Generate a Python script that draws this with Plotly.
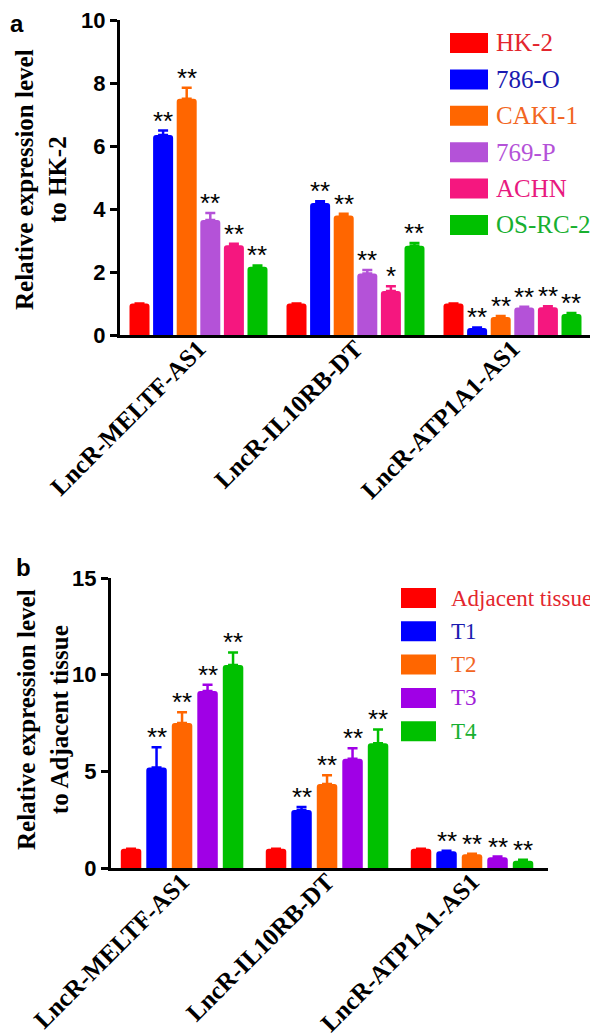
import plotly.graph_objects as go

# ---------------- data ----------------
categories = ["LncR-MELTF-AS1", "LncR-IL10RB-DT", "LncR-ATP1A1-AS1"]

# panel a
series_a = ["HK-2", "786-O", "CAKI-1", "769-P", "ACHN", "OS-RC-2"]
hk2 = [1.0, 1.0, 1.0]
hk2_err = [0.0, 0.0, 0.0]
o786 = [6.35, 4.19, 0.22]
o786_err = [0.14, 0.06, 0.02]
caki1 = [7.5, 3.79, 0.57]
caki1_err = [0.35, 0.06, 0.03]
p769 = [3.65, 1.95, 0.87]
p769_err = [0.22, 0.11, 0.03]
achn = [2.85, 1.4, 0.88]
achn_err = [0.05, 0.15, 0.03]
osrc2 = [2.17, 2.83, 0.67]
osrc2_err = [0.04, 0.09, 0.03]
stars_a = [
    ["", "", ""],
    ["**", "**", "**"],
    ["**", "**", "**"],
    ["**", "**", "**"],
    ["**", "*", "**"],
    ["**", "**", "**"],
]

# panel b
series_b = ["Adjacent tissue", "T1", "T2", "T3", "T4"]
adj = [1.0, 1.0, 1.0]
adj_err = [0.0, 0.0, 0.0]
t1 = [5.2, 3.0, 0.86]
t1_err = [1.05, 0.15, 0.03]
t2 = [7.5, 4.35, 0.71]
t2_err = [0.55, 0.45, 0.03]
t3 = [9.15, 5.65, 0.56]
t3_err = [0.33, 0.55, 0.03]
t4 = [10.5, 6.45, 0.38]
t4_err = [0.65, 0.72, 0.05]
stars_b = [
    ["", "", ""],
    ["**", "**", "**"],
    ["**", "**", "**"],
    ["**", "**", "**"],
    ["**", "**", "**"],
]

# ---------------- styles ----------------
colors_a = ["#FF0000", "#0000FF", "#FF6600", "#B452D8", "#F5177F", "#00C000"]
text_colors_a = ["#E3262E", "#1A1AB0", "#F26522", "#B452D8", "#E8197F", "#18B030"]
colors_b = ["#FF0000", "#0000FF", "#FF6600", "#A000E6", "#00C000"]
text_colors_b = ["#E3262E", "#1A1AB0", "#F26522", "#A020D8", "#18B030"]

W, H = 598, 1036
SERIF = "Liberation Serif"
SANS = "Liberation Sans"


def px(x):
    return x / W


def py(y):
    return 1 - y / H


values_a = [hk2, o786, caki1, p769, achn, osrc2]
errs_a = [hk2_err, o786_err, caki1_err, p769_err, achn_err, osrc2_err]
values_b = [adj, t1, t2, t3, t4]
errs_b = [adj_err, t1_err, t2_err, t3_err, t4_err]

fig = go.Figure()
annotations = []
shapes = []

cat_pos = list(range(len(categories)))


def add_panel(names, values, errs, stars, colors, xa, ya, slot, width):
    n = len(names)
    for i, name in enumerate(names):
        off = -n * slot / 2 + i * slot + (slot - width) / 2
        fig.add_trace(go.Bar(
            x=cat_pos, y=values[i], name=name,
            width=width, offset=off,
            marker=dict(color=colors[i], line=dict(width=0), cornerradius=3),
            error_y=dict(type="data", array=errs[i], arrayminus=[0] * len(errs[i]),
                         symmetric=False, color=colors[i], thickness=2.5, width=5),
            xaxis=xa, yaxis=ya, showlegend=False,
        ))
        for j, c in enumerate(cat_pos):
            if stars[i][j]:
                annotations.append(dict(
                    x=c + off + width / 2, y=values[i][j] + errs[i][j],
                    xref=xa, yref=ya, text=stars[i][j], showarrow=False,
                    yanchor="bottom", xanchor="center", yshift=-7,
                    font=dict(family=SANS, size=26, color="black"),
                ))


add_panel(series_a, values_a, errs_a, stars_a, colors_a, "x", "y", 0.1503, 0.1274)
add_panel(series_b, values_b, errs_b, stars_b, colors_b, "x2", "y2", 0.1759, 0.1414)


# manual legends
def add_legend(names, colors, tcolors, x0, x1, y_start, step, sw_h, tx, fsize):
    for i, name in enumerate(names):
        yc = y_start + i * step
        shapes.append(dict(type="rect", xref="paper", yref="paper",
                           x0=px(x0), x1=px(x1), y0=py(yc + sw_h / 2), y1=py(yc - sw_h / 2),
                           fillcolor=colors[i], line=dict(width=0)))
        annotations.append(dict(x=px(tx), y=py(yc), xref="paper", yref="paper",
                                text=name, showarrow=False, xanchor="left", yanchor="middle",
                                font=dict(family=SERIF, size=fsize, color=tcolors[i])))


add_legend(series_a, colors_a, text_colors_a, 442, 480, 35, 36.4, 20, 486, 25)
add_legend(series_b, colors_b, text_colors_b, 393, 428, 590, 33.3, 20, 441, 23)

# y-axis titles
annotations.append(dict(x=px(33), y=py(172), xref="paper", yref="paper",
                        text="Relative expression level<br>to HK-2", textangle=-90,
                        showarrow=False, xanchor="center", yanchor="middle",
                        font=dict(family=SERIF, size=25, color="black", weight="bold")))
annotations.append(dict(x=px(35), y=py(712), xref="paper", yref="paper",
                        text="Relative expression level<br>to Adjacent tissue", textangle=-90,
                        showarrow=False, xanchor="center", yanchor="middle",
                        font=dict(family=SERIF, size=25, color="black", weight="bold")))

# panel letters
annotations.append(dict(x=px(0), y=py(0), xref="paper", yref="paper", text="a",
                        showarrow=False, xanchor="left", yanchor="top",
                        font=dict(family=SANS, size=24, color="black", weight="bold")))
annotations.append(dict(x=px(6), y=py(544), xref="paper", yref="paper", text="b",
                        showarrow=False, xanchor="left", yanchor="top",
                        font=dict(family=SANS, size=24, color="black", weight="bold")))

xaxis_common = dict(
    tickvals=cat_pos, ticktext=categories, tickangle=-45,
    tickfont=dict(family=SERIF, size=25, color="black", weight="bold"),
    showline=True, linecolor="black", linewidth=3, ticks="",
    ticklabelstandoff=-14,
    showgrid=False, zeroline=False, fixedrange=True, automargin=False,
)
yaxis_common = dict(
    showline=True, linecolor="black", linewidth=3, ticks="outside",
    ticklen=7, tickwidth=3, tickcolor="black", ticklabeloverflow="allow",
    tickfont=dict(family=SANS, size=22, color="black", weight="bold"),
    showgrid=False, zeroline=False, fixedrange=True, automargin=False,
)

fig.update_layout(
    width=W, height=H, autosize=False,
    margin=dict(l=0, r=0, t=0, b=0, pad=0),
    paper_bgcolor="white", plot_bgcolor="white",
    xaxis=dict(domain=[px(112), px(583)], range=[-0.5, 2.5], anchor="y", **xaxis_common),
    yaxis=dict(domain=[py(327), py(12)], range=[0, 10], tickvals=[0, 2, 4, 6, 8, 10],
               anchor="x", **yaxis_common),
    xaxis2=dict(domain=[px(103), px(540)], range=[-0.49, 2.524], anchor="y2", **xaxis_common),
    yaxis2=dict(domain=[py(860), py(570)], range=[0, 15], tickvals=[0, 5, 10, 15],
                anchor="x2", **yaxis_common),
    annotations=annotations,
    shapes=shapes,
    showlegend=False,
)

fig.write_html("out.html")
